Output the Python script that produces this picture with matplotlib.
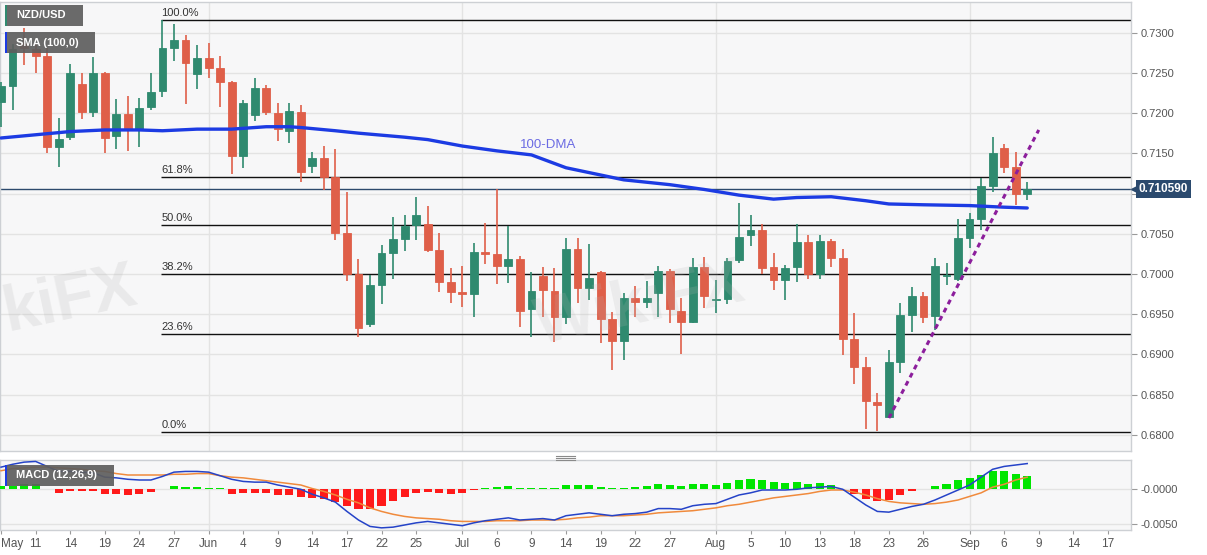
import matplotlib
matplotlib.use("Agg")
import matplotlib.pyplot as plt
import numpy as np
import pandas as pd
from matplotlib.patches import Rectangle
from matplotlib.lines import Line2D
import matplotlib.transforms as mtransforms

plt.rcParams['font.family'] = ['Liberation Sans', 'DejaVu Sans']

# ---------------- data ----------------
start_date = "2021-05-06"
end_date = "2021-09-17"

opens = [0.7214, 0.7233, 0.7287, 0.7280, 0.7271, 0.7158, 0.7170, 0.7236, 0.7201, 0.7250,
         0.7172, 0.7199, 0.7180, 0.7208, 0.7228, 0.7281, 0.7291, 0.7249, 0.7269, 0.7256,
         0.7239, 0.7146, 0.7197, 0.7231, 0.7200, 0.7178, 0.7201, 0.7134, 0.7144, 0.7121,
         0.7051, 0.7000, 0.6938, 0.6986, 0.7026, 0.7044, 0.7061, 0.7062, 0.7030, 0.6990,
         0.6978, 0.6975, 0.7027, 0.7025, 0.7010, 0.7019, 0.6956, 0.6998, 0.6979, 0.6947,
         0.7031, 0.6983, 0.7002, 0.6944, 0.6917, 0.6970, 0.6965, 0.6976, 0.7004, 0.6954,
         0.6940, 0.7009, 0.6968, 0.6969, 0.7017, 0.7049, 0.7055, 0.7009, 0.6993, 0.7009,
         0.7040, 0.7000, 0.7041, 0.7020, 0.6919, 0.6884, 0.6841, 0.6822, 0.6891, 0.6949,
         0.6973, 0.6948, 0.6998, 0.6994, 0.7045, 0.7068, 0.7109, 0.7157, 0.7133, 0.7100]
highs = [0.7239, 0.7286, 0.7306, 0.7286, 0.7281, 0.7194, 0.7261, 0.7250, 0.7270, 0.7251,
         0.7218, 0.7221, 0.7219, 0.7250, 0.7316, 0.7311, 0.7297, 0.7285, 0.7287, 0.7271,
         0.7240, 0.7216, 0.7244, 0.7235, 0.7213, 0.7213, 0.7210, 0.7152, 0.7159, 0.7155,
         0.7102, 0.7019, 0.6999, 0.7036, 0.7071, 0.7073, 0.7096, 0.7085, 0.7051, 0.7007,
         0.7010, 0.7039, 0.7063, 0.7106, 0.7060, 0.7022, 0.7002, 0.7009, 0.7007, 0.7045,
         0.7045, 0.7037, 0.7004, 0.6953, 0.6976, 0.6985, 0.6991, 0.7010, 0.7006, 0.6970,
         0.7020, 0.7021, 0.6993, 0.7020, 0.7088, 0.7073, 0.7062, 0.7026, 0.7011, 0.7062,
         0.7049, 0.7049, 0.7044, 0.7031, 0.6951, 0.6897, 0.6852, 0.6905, 0.6964, 0.6984,
         0.6978, 0.7020, 0.7014, 0.7068, 0.7076, 0.7119, 0.7170, 0.7162, 0.7152, 0.7114]
lows = [0.7183, 0.7204, 0.7260, 0.7250, 0.7150, 0.7133, 0.7167, 0.7192, 0.7195, 0.7150,
        0.7155, 0.7153, 0.7158, 0.7204, 0.7220, 0.7265, 0.7211, 0.7230, 0.7244, 0.7208,
        0.7124, 0.7132, 0.7190, 0.7198, 0.7165, 0.7163, 0.7114, 0.7126, 0.7104, 0.7042,
        0.6991, 0.6922, 0.6934, 0.6963, 0.6994, 0.7029, 0.7042, 0.7027, 0.6978, 0.6964,
        0.6959, 0.6947, 0.7012, 0.6988, 0.6989, 0.6934, 0.6922, 0.6947, 0.6915, 0.6938,
        0.6964, 0.6968, 0.6914, 0.6881, 0.6893, 0.6947, 0.6958, 0.6947, 0.6939, 0.6900,
        0.6939, 0.6958, 0.6951, 0.6963, 0.7014, 0.7035, 0.7000, 0.6980, 0.6968, 0.6990,
        0.6994, 0.6994, 0.7009, 0.6899, 0.6863, 0.6807, 0.6805, 0.6821, 0.6877, 0.6928,
        0.6939, 0.6930, 0.6986, 0.6991, 0.7032, 0.7055, 0.7102, 0.7126, 0.7086, 0.7092]
closes = [0.7233, 0.7279, 0.7281, 0.7271, 0.7158, 0.7168, 0.7250, 0.7201, 0.7250, 0.7169,
          0.7199, 0.7179, 0.7206, 0.7226, 0.7281, 0.7291, 0.7262, 0.7269, 0.7256, 0.7239,
          0.7146, 0.7213, 0.7231, 0.7201, 0.7180, 0.7203, 0.7127, 0.7144, 0.7121, 0.7051,
          0.7000, 0.6933, 0.6986, 0.7026, 0.7044, 0.7060, 0.7073, 0.7030, 0.6990, 0.6978,
          0.6975, 0.7027, 0.7025, 0.7010, 0.7019, 0.6954, 0.6979, 0.6980, 0.6947, 0.7031,
          0.6983, 0.6995, 0.6944, 0.6917, 0.6970, 0.6965, 0.6970, 0.7004, 0.6956, 0.6940,
          0.7009, 0.6973, 0.6969, 0.7016, 0.7046, 0.7055, 0.7007, 0.6993, 0.7007, 0.7040,
          0.7000, 0.7041, 0.7020, 0.6919, 0.6884, 0.6842, 0.6837, 0.6891, 0.6949, 0.6973,
          0.6947, 0.7010, 0.6999, 0.7045, 0.7068, 0.7109, 0.7150, 0.7133, 0.7100, 0.7106]

sma_idx = [0, 3, 6, 9, 12, 14, 17, 20, 23, 25, 26, 29, 31, 35, 37, 40, 43, 46, 49, 54,
           58, 61, 64, 67, 69, 72, 75, 77, 80, 84, 87, 89]
sma_val = [0.7169, 0.7173, 0.7177, 0.7179, 0.7179, 0.7178, 0.7180, 0.7180, 0.7183, 0.7183,
           0.7182, 0.7178, 0.7175, 0.7170, 0.7167, 0.7159, 0.7153, 0.7148, 0.7132, 0.7117,
           0.7111, 0.7105, 0.7098, 0.7093, 0.7095, 0.7096, 0.7091, 0.7087, 0.7086, 0.7085,
           0.7083, 0.7082]

macd = [0.0030, 0.0034, 0.0037, 0.0038, 0.0031, 0.0024, 0.0024, 0.0023, 0.0022, 0.0016,
        0.0015, 0.0013, 0.0012, 0.0012, 0.0017, 0.0023, 0.0024, 0.0024, 0.0023, 0.0018,
        0.0013, 0.0010, 0.0009, 0.0009, 0.0005, 0.0002, -0.0001, -0.0008, -0.0013, -0.0019,
        -0.0032, -0.0044, -0.0053, -0.0055, -0.0054, -0.0051, -0.0048, -0.0046, -0.0048, -0.0050,
        -0.0052, -0.0048, -0.0045, -0.0043, -0.0041, -0.0044, -0.0043, -0.0042, -0.0044, -0.0038,
        -0.0036, -0.0034, -0.0036, -0.0038, -0.0036, -0.0035, -0.0033, -0.0028, -0.0028, -0.0029,
        -0.0024, -0.0022, -0.0021, -0.0015, -0.0009, -0.0006, -0.0002, -0.0002, -0.0002, -0.0001,
        0.0001, 0.0002, 0.0003, -0.0001, -0.0012, -0.0023, -0.0032, -0.0033, -0.0029, -0.0025,
        -0.0022, -0.0016, -0.0009, -0.0002, 0.0005, 0.0016, 0.0027, 0.0031, 0.0033, 0.0035]
signal = [0.0025, 0.0028, 0.0029, 0.0030, 0.0030, 0.0029, 0.0028, 0.0027, 0.0025, 0.0024,
          0.0021, 0.0019, 0.0019, 0.0019, 0.0019, 0.0020, 0.0020, 0.0021, 0.0021, 0.0018,
          0.0016, 0.0015, 0.0013, 0.0011, 0.0009, 0.0007, 0.0005, 0.0000, -0.0004, -0.0009,
          -0.0015, -0.0020, -0.0027, -0.0032, -0.0036, -0.0039, -0.0041, -0.0042, -0.0043, -0.0045,
          -0.0046, -0.0046, -0.0046, -0.0045, -0.0045, -0.0045, -0.0044, -0.0044, -0.0044, -0.0043,
          -0.0041, -0.0040, -0.0038, -0.0038, -0.0038, -0.0037, -0.0036, -0.0034, -0.0033, -0.0032,
          -0.0031, -0.0029, -0.0027, -0.0024, -0.0022, -0.0019, -0.0016, -0.0013, -0.0011, -0.0009,
          -0.0007, -0.0004, -0.0002, -0.0002, -0.0005, -0.0009, -0.0014, -0.0018, -0.0020, -0.0021,
          -0.0022, -0.0021, -0.0019, -0.0016, -0.0011, -0.0006, 0.0002, 0.0006, 0.0012, 0.0016]
hist = [0.0003, 0.0003, 0.0006, 0.0006, -0.0001, -0.00055, -0.0004, -0.0004, -0.0003, -0.00075,
        -0.00075, -0.0009, -0.00075, -0.00045, -0.00005, 0.0003, 0.00025, 0.00025, 0.0001, 0.00003,
        -0.0007, -0.00065, -0.0006, -0.00065, -0.0009, -0.00095, -0.0012, -0.0013, -0.00145, -0.00185,
        -0.0024, -0.0029, -0.0029, -0.0024, -0.00175, -0.0012, -0.0006, -0.00045, -0.0006, -0.0007,
        -0.00065, -0.00025, 0.00005, 0.0002, 0.0003, 0.00005, 0.00005, 0.0001, 0.00002, 0.00045,
        0.00045, 0.00055, 0.00025, 0.00005, 0.00015, 0.00025, 0.0003, 0.0006, 0.00055, 0.0003,
        0.0007, 0.0006, 0.00055, 0.0008, 0.0012, 0.0014, 0.00115, 0.0009, 0.0008, 0.0009,
        0.0006, 0.0008, 0.00055, -0.00005, -0.00075, -0.00145, -0.00175, -0.0016, -0.0009, -0.0003,
        -0.0001, 0.0004, 0.0007, 0.00115, 0.0015, 0.0019, 0.0024, 0.00245, 0.0021, 0.00175]

tick_dates = ["2021-05-06", "2021-05-11", "2021-05-14", "2021-05-19", "2021-05-24", "2021-05-27",
              "2021-06-01", "2021-06-04", "2021-06-09", "2021-06-14", "2021-06-17", "2021-06-22",
              "2021-06-25", "2021-07-01", "2021-07-06", "2021-07-09", "2021-07-14", "2021-07-19",
              "2021-07-22", "2021-07-27", "2021-08-02", "2021-08-05", "2021-08-10", "2021-08-13",
              "2021-08-18", "2021-08-23", "2021-08-26", "2021-09-01", "2021-09-06", "2021-09-09",
              "2021-09-14", "2021-09-17"]
tick_labels = ["May", "11", "14", "19", "24", "27", "Jun", "4", "9", "14", "17", "22", "25",
               "Jul", "6", "9", "14", "19", "22", "27", "Aug", "5", "10", "13", "18", "23", "26",
               "Sep", "6", "9", "14", "17"]
month_dates = ["2021-06-01", "2021-07-01", "2021-08-02", "2021-09-01"]

fib_levels = [0.7316, 0.7121, 0.7061, 0.7000, 0.6925, 0.6804]
fib_labels = ["100.0%", "61.8%", "50.0%", "38.2%", "23.6%", "0.0%"]
fib_start_date = "2021-05-26"

trend_dates = ["2021-08-23", "2021-09-09"]
trend_vals = [0.6821, 0.7179]

last_price = 0.710590
price_ticks = [0.6800, 0.6850, 0.6900, 0.6950, 0.7000, 0.7050, 0.7100, 0.7150, 0.7200, 0.7250, 0.7300]
macd_ticks = [0.0, -0.005]
macd_tick_labels = ["-0.0000", "-0.0050"]

# ---------------- layout ----------------
W, H = 1207, 555
fig = plt.figure(figsize=(W / 100, H / 100), dpi=100)
fig.patch.set_facecolor('white')


def fx(x):
    return x / W


def fy(y):
    return 1 - y / H


ax = fig.add_axes([0, fy(451), fx(1131), fy(2) - fy(451)])
axm = fig.add_axes([0, fy(530), fx(1131), fy(460) - fy(530)])

days = pd.bdate_range(start_date, end_date)
pos = {d.strftime("%Y-%m-%d"): i for i, d in enumerate(days)}

bg = '#f7f7f8'
grid_c = '#e3e3e3'
spine_c = '#cdd0d4'
for a in (ax, axm):
    a.set_facecolor(bg)
    for s in a.spines.values():
        s.set_color(spine_c)
        s.set_linewidth(1)
    a.set_xlim(-0.09, 98.0)

# grids
for p in price_ticks:
    ax.axhline(p, color=grid_c, lw=1, zorder=0)
for m in month_dates:
    ax.axvline(pos[m], color=grid_c, lw=1, zorder=0)
    axm.axvline(pos[m], color=grid_c, lw=1, zorder=0)
for t in macd_ticks:
    axm.axhline(t, color=grid_c, lw=1, zorder=0)

# candles
o = np.array(opens); h = np.array(highs); l = np.array(lows); c = np.array(closes)
x = np.arange(len(o))
up = c >= o
cols = np.where(up, '#2f8a6f', '#df5f49')
ax.vlines(x, l, h, colors=cols, lw=1.2, zorder=3)
body_b = np.minimum(o, c)
body_h = np.maximum(np.abs(c - o), 0.00004)
ax.bar(x, body_h, 0.68, bottom=body_b, color=cols, edgecolor=cols, lw=0.6, zorder=4)

# SMA
ax.plot(sma_idx, sma_val, color='#1c3be3', lw=2.4, zorder=5, solid_capstyle='round')
ax.text(45.0, 0.7160, "100-DMA", color='#6b6be3', fontsize=9.5, va='center', ha='left', zorder=6)

# fib lines
fstart = pos[fib_start_date] - 0.1
for lvl, lab in zip(fib_levels, fib_labels):
    ax.hlines(lvl, fstart, 99, color='#111111', lw=1.0, zorder=2)
    ax.annotate(lab, (fstart, lvl), xytext=(0, 1.5), textcoords='offset points',
                ha='left', va='bottom', fontsize=8, color='#333333', zorder=6)

# trend line
tx = [pos[d] for d in trend_dates]
ax.plot(tx, trend_vals, color='#8c1e9c', lw=2.2, ls=(0, (1.6, 1.4)), zorder=6)

# current price
ax.axhline(last_price, color='#2d4a6d', lw=1, zorder=2)
ax.annotate(f"{last_price:.6f}", xy=(1.0, last_price), xycoords=('axes fraction', 'data'),
            xytext=(5.5, 0), textcoords='offset points', va='center', ha='left',
            color='white', fontweight='bold', fontsize=8.5,
            bbox=dict(boxstyle='square,pad=0.25', fc='#2b4a6e', ec='none'),
            annotation_clip=False, zorder=10)
trans = mtransforms.blended_transform_factory(ax.transAxes, ax.transData)
ax.plot([1.003], [last_price], marker='<', ms=4, color='#2b4a6e', transform=trans,
        clip_on=False, zorder=10)

ax.set_ylim(0.6780, 0.7338)
ax.yaxis.tick_right()
ax.set_yticks(price_ticks)
# the 0.7100 label sits under the current-price box
ax.set_yticklabels(["" if abs(p - 0.7100) < 1e-9 else f"{p:.4f}" for p in price_ticks])
ax.tick_params(axis='y', colors='#9a9a9a', labelcolor='#555555', labelsize=8, length=4, pad=3)
ax.tick_params(axis='x', bottom=False, labelbottom=False)

# MACD
hcols = ['#00e600' if v >= 0 else '#ff1a1a' for v in hist]
axm.bar(x, hist, 0.7, color=hcols, zorder=3)
axm.plot(x, signal, color='#f08a3c', lw=1.1, zorder=4)
axm.plot(x, macd, color='#2543c8', lw=1.1, zorder=5)
axm.set_ylim(-0.0058, 0.0040)
axm.yaxis.tick_right()
axm.set_yticks(macd_ticks)
axm.set_yticklabels(macd_tick_labels)
axm.tick_params(axis='y', colors='#9a9a9a', labelcolor='#555555', labelsize=8, length=4, pad=3)
axm.set_xticks([pos[d] for d in tick_dates])
axm.set_xticklabels(tick_labels)
axm.tick_params(axis='x', colors='#9a9a9a', labelcolor='#555555', labelsize=8.5, length=3, pad=3)
first = axm.get_xticklabels()[0]
first.set_horizontalalignment('left')

# legend boxes
def label_box(x0, y0, x1, y1, strip_c, text):
    fig.patches.append(Rectangle((fx(x0), fy(y1)), fx(x1) - fx(x0), fy(y0) - fy(y1),
                                 transform=fig.transFigure, fc='#5e5e5e', ec='none',
                                 alpha=0.92, zorder=20))
    fig.patches.append(Rectangle((fx(x0), fy(y1)), fx(2), fy(y0) - fy(y1),
                                 transform=fig.transFigure, fc=strip_c, ec='none', zorder=21))
    fig.text(fx(x0 + 11), fy((y0 + y1) / 2), text, color='white', fontsize=8,
             fontweight='bold', va='center', ha='left', zorder=22)

label_box(5, 5, 83, 26, '#2f8a6f', "NZD/USD")
label_box(5, 32, 95, 53, '#1c3be3', "SMA (100,0)")
label_box(5, 465, 114, 486, '#1c3be3', "MACD (12,26,9)")

# resize handle
for yy in (455.5, 457.5, 459.5):
    fig.add_artist(Line2D([fx(556), fx(575)], [fy(yy), fy(yy)], color='#8a8a8a', lw=0.8))

# faint watermarks
fig.text(fx(70), fy(300), "kiFX", fontsize=46, color='#b8b8b8', alpha=0.22,
         fontweight='bold', rotation=12, ha='center', va='center', zorder=1)
fig.text(fx(640), fy(305), "WikiFX", fontsize=46, color='#b8b8b8', alpha=0.18,
         fontweight='bold', rotation=12, ha='center', va='center', zorder=1)

fig.savefig("out.png", dpi=100, facecolor='white')
